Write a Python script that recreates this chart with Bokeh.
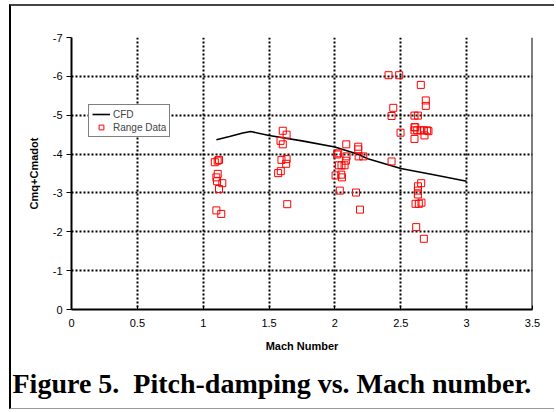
from bokeh.plotting import figure
from bokeh.models import Range1d, FixedTicker, Legend, LegendItem, Title, Span
from bokeh.embed import file_html
from bokeh.resources import INLINE

# CFD curve
cfd_mach = [1.1, 1.2, 1.3, 1.36, 1.5, 1.75, 2.0, 2.17, 2.25, 2.5, 2.75, 3.0]
cfd_val = [-4.37, -4.45, -4.54, -4.58, -4.48, -4.34, -4.18, -4.0, -3.88, -3.63, -3.47, -3.30]

# Range data
range_mach = [1.088, 1.11, 1.12, 1.11, 1.10, 1.105, 1.145, 1.12, 1.10, 1.137,
              1.604, 1.633, 1.587, 1.604, 1.594, 1.633, 1.63, 1.569, 1.589, 1.638,
              2.017, 2.025, 2.088, 2.083, 2.03, 2.05, 2.073, 2.005, 2.048, 2.053, 2.037, 2.086,
              2.177, 2.177, 2.18, 2.215, 2.16, 2.19,
              2.407, 2.488, 2.443, 2.43, 2.498, 2.43,
              2.652, 2.69, 2.69, 2.604, 2.63, 2.604, 2.604, 2.625, 2.65, 2.675, 2.70, 2.68, 2.604,
              2.71, 2.61,
              2.655, 2.63, 2.63, 2.63, 2.612, 2.637, 2.657, 2.617, 2.675]
range_val = [-3.79, -3.83, -3.85, -3.49, -3.40, -3.30, -3.25, -3.10, -2.55, -2.46,
             -4.60, -4.50, -4.34, -4.25, -3.85, -3.87, -3.75, -3.51, -3.56, -2.71,
             -3.99, -4.02, -3.94, -3.83, -3.71, -3.71, -3.71, -3.45, -3.47, -3.40, -3.06, -4.25,
             -4.19, -4.12, -3.94, -3.94, -3.01, -2.57,
             -6.03, -6.03, -5.19, -4.98, -4.55, -3.81,
             -5.78, -5.38, -5.24, -4.99, -4.99, -4.69, -4.61, -4.61, -4.61, -4.61, -4.61, -4.48, -4.39,
             -4.59, -4.69,
             -3.25, -3.17, -3.06, -2.96, -2.72, -2.72, -2.75, -2.12, -1.82]

x_ticks = [0, 0.5, 1, 1.5, 2, 2.5, 3, 3.5]
x_tick_labels = ["0", "0.5", "1", "1.5", "2", "2.5", "3", "3.5"]
y_ticks = [0, -1, -2, -3, -4, -5, -6, -7]
y_tick_labels = ["0", "-1", "-2", "-3", "-4", "-5", "-6", "-7"]

FONT = "Liberation Sans"

# outer frame drawn as CSS borders; figure shifted by margins
p = figure(width=545, height=405, output_backend="svg", toolbar_location=None,
           x_range=Range1d(0, 3.5), y_range=Range1d(0, -7),
           min_border_left=60, min_border_right=24, min_border_top=31, min_border_bottom=102)
p.margin = (4, 0, 0, 9)
p.styles = {"border-left": "2px solid black", "border-top": "2px solid #444444",
            "border-bottom": "1px solid #999999", "overflow": "hidden"}
p.outline_line_color = None
p.background_fill_color = "white"
p.border_fill_color = "white"

for ax in (p.xaxis[0], p.yaxis[0]):
    ax.axis_line_color = "black"
    ax.axis_line_width = 2
    ax.major_tick_line_color = "black"
    ax.minor_tick_line_color = None
    ax.major_label_text_font = FONT
    ax.major_label_text_font_size = "11px"
    ax.major_label_text_color = "black"
    ax.axis_label_text_font = FONT
    ax.axis_label_text_font_size = "11px"
    ax.axis_label_text_font_style = "bold"
    ax.axis_label_text_color = "black"

p.xaxis.ticker = FixedTicker(ticks=x_ticks)
p.xaxis.major_label_overrides = dict(zip(x_ticks, x_tick_labels))
p.xaxis.major_tick_in = 4
p.xaxis.major_tick_out = 0
p.xaxis.major_label_standoff = 9
p.xaxis.axis_label = "Mach Number"
p.xaxis.axis_label_standoff = 10

p.yaxis.ticker = FixedTicker(ticks=y_ticks)
p.yaxis.major_label_overrides = dict(zip(y_ticks, y_tick_labels))
p.yaxis.major_tick_in = 0
p.yaxis.major_tick_out = 5
p.yaxis.major_label_standoff = 4
p.yaxis.axis_label = "Cmq+Cmadot"
p.yaxis.axis_label_standoff = 10

for g in (p.xgrid[0], p.ygrid[0]):
    g.grid_line_color = "black"
    g.grid_line_width = 2
    g.grid_line_dash = "2 2"

# right frame edge solid
p.add_layout(Span(location=3.5, dimension="height", line_color="black", line_width=2))

line_r = p.line(cfd_mach, cfd_val, line_color="black", line_width=1.6)
sq_r = p.scatter(range_mach, range_val, marker="square", size=7, fill_color=None,
                 line_color="#ff0000", line_width=1)

legend = Legend(items=[LegendItem(label="CFD", renderers=[line_r]),
                       LegendItem(label="Range Data", renderers=[sq_r])],
                location=(17, 172))
legend.border_line_color = "black"
legend.border_line_width = 1
legend.label_text_font = FONT
legend.label_text_font_size = "10px"
legend.glyph_height = 12
legend.glyph_width = 18
legend.label_height = 12
legend.label_standoff = 3
legend.padding = 3
legend.spacing = 1
legend.margin = 0
legend.background_fill_alpha = 1
p.add_layout(legend, "center")

caption = Title(text="Figure 5.\u00a0 Pitch-damping vs. Mach number.",
                text_font="Liberation Serif", text_font_style="bold",
                text_font_size="28px", text_color="black", align="left",
                offset=-59, standoff=23)
p.add_layout(caption, "below")

html = file_html(p, INLINE)
html = html.replace("</head>", "<style>html, body { margin: 0; padding: 0; overflow: hidden; }</style></head>", 1)
open("out.html", "w").write(html)
